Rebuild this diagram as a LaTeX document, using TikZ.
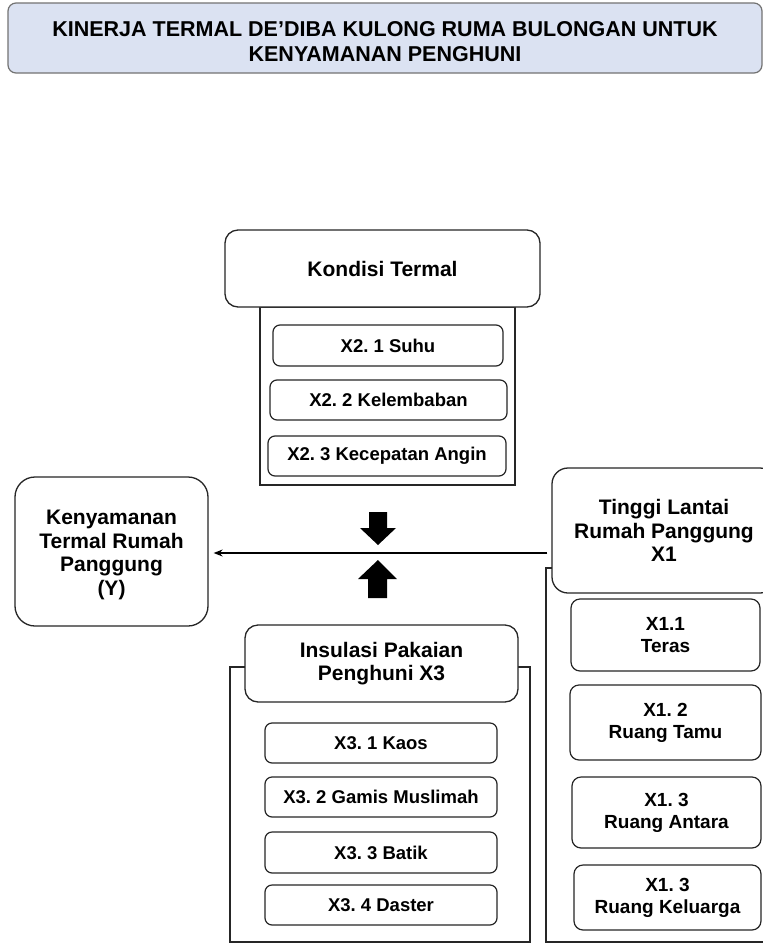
\documentclass[tikz,border=0pt]{standalone}
\usepackage{fontspec}
\setmainfont{Liberation Sans}
\usetikzlibrary{positioning,arrows.meta}
\definecolor{judulbiru}{RGB}{219,226,242}
\frenchspacing

\begin{document}
\begin{tikzpicture}[x=1pt,y=-1pt,
  judul/.style={draw=black!55,fill=judulbiru,rounded corners=8pt,line width=1.2pt,inner sep=0pt,align=center,font=\fontsize{21.5}{25}\selectfont\bfseries},
  kepala/.style={draw=black!85,fill=white,rounded corners=13pt,line width=1.3pt,inner sep=0pt,align=center,font=\fontsize{21}{23.5}\selectfont\bfseries},
  isi/.style={draw=black!85,fill=white,rounded corners=7pt,line width=1.2pt,inner sep=0pt,align=center,font=\fontsize{18.5}{22}\selectfont\bfseries},
  bingkai/.style={draw=black!85,line width=1.2pt}]
\useasboundingbox (0,0) rectangle (763,943);
\clip (0,0) rectangle (763,943);
\fill[white] (0,0) rectangle (763,943);

% judul
\node[judul,minimum width=754,minimum height=70] (judul) at (385,38) {\rule{0pt}{22.5pt}KINERJA TERMAL DE’DIBA KULONG RUMA BULONGAN UNTUK\\KENYAMANAN PENGHUNI};

% bingkai
\draw[bingkai] (260,307) rectangle (515,485);
\draw[bingkai] (546,568) rectangle (790,942);
\draw[bingkai] (230,667) rectangle (530,942);

% X2
\node[kepala,minimum width=315,minimum height=77] (x2) at (382.5,268.5) {Kondisi Termal};
\node[isi,minimum width=230,minimum height=41] (x21) at (388,345.5) {X2. 1 Suhu};
\node[isi,minimum width=237,minimum height=40] (x22) at (388.5,400) {X2. 2 Kelembaban};
\node[isi,minimum width=238,minimum height=40] (x23) at (387,456) {X2. 3 Kecepatan Angin};

% Y
\node[kepala,rounded corners=20pt,minimum width=193,minimum height=149] (y) at (111.5,551.5) {\rule{0pt}{21pt}Kenyamanan\\Termal Rumah\\Panggung\\(Y)};

% X1
\node[kepala,rounded corners=16pt,minimum width=224,minimum height=125] (x1) at (664,530.5) {Tinggi Lantai\\Rumah Panggung\\X1};
\node[isi,rounded corners=9pt,font=\fontsize{19}{22}\selectfont\bfseries,minimum width=189,minimum height=72] (x11) at (665.5,635) {X1.1\\Teras};
\node[isi,rounded corners=9pt,font=\fontsize{19}{22}\selectfont\bfseries,minimum width=191,minimum height=75] (x12) at (665.5,722.5) {X1. 2\\Ruang Tamu};
\node[isi,rounded corners=9pt,font=\fontsize{19}{22}\selectfont\bfseries,minimum width=189,minimum height=71] (x13) at (666.5,812.5) {X1. 3\\Ruang Antara};
\node[isi,rounded corners=9pt,font=\fontsize{19}{22}\selectfont\bfseries,minimum width=187,minimum height=65] (x14) at (667.5,897.5) {X1. 3\\Ruang Keluarga};

% X3
\node[kepala,minimum width=273,minimum height=77] (x3) at (381.5,663.5) {Insulasi Pakaian\\Penghuni X3};
\node[isi,minimum width=232,minimum height=40] (x31) at (381,743) {X3. 1 Kaos};
\node[isi,minimum width=232,minimum height=40] (x32) at (381,797) {X3. 2 Gamis Muslimah};
\node[isi,minimum width=232,minimum height=41] (x33) at (381,852.5) {X3. 3 Batik};
\node[isi,minimum width=232,minimum height=40] (x34) at (381,905) {X3. 4 Daster};

% panah
\draw[line width=1.2pt,-{Stealth[length=9pt,width=7pt]}] ([xshift=-4pt]x1.west |- 0,553) -- ([xshift=5pt]y.east |- 0,553);
\fill (369,512) -- (387,512) -- (387,528) -- (396,528) -- (378,545) -- (360,528) -- (369,528) -- cycle;
\fill (378,560) -- (397,579) -- (387,579) -- (387,598) -- (368,598) -- (368,579) -- (358,579) -- cycle;
\end{tikzpicture}
\end{document}
